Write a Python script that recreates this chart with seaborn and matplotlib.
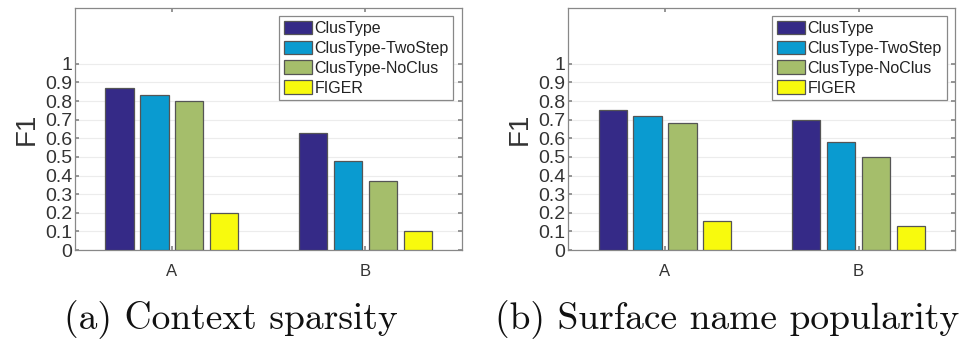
import matplotlib
matplotlib.use("Agg")
import matplotlib.pyplot as plt
import seaborn as sns
import pandas as pd

groups = ["A", "B"]
methods = ["ClusType", "ClusType-TwoStep", "ClusType-NoClus", "FIGER"]
colors = ["#352A87", "#0A9BD0", "#A5BE6B", "#F8FA0D"]

# values per method, for groups A and B
sparsity = {
    "ClusType": [0.87, 0.63],
    "ClusType-TwoStep": [0.835, 0.48],
    "ClusType-NoClus": [0.80, 0.37],
    "FIGER": [0.198, 0.105],
}
popularity = {
    "ClusType": [0.75, 0.70],
    "ClusType-TwoStep": [0.72, 0.58],
    "ClusType-NoClus": [0.68, 0.50],
    "FIGER": [0.155, 0.13],
}
captions = ["(a) Context sparsity", "(b) Surface name popularity"]
yticks = [0, 0.1, 0.2, 0.3, 0.4, 0.5, 0.6, 0.7, 0.8, 0.9, 1]
yticklabels = ["0", "0.1", "0.2", "0.3", "0.4", "0.5", "0.6", "0.7", "0.8", "0.9", "1"]

sns.set_theme(style="white")
plt.rcParams["font.family"] = ["Liberation Sans", "DejaVu Sans"]

fig = plt.figure(figsize=(9.68, 3.44), dpi=100)
ax_pos = [[0.0775, 0.273, 0.400, 0.704], [0.587, 0.273, 0.400, 0.704]]
cap_x = [0.239, 0.7515]

for i, data in enumerate([sparsity, popularity]):
    rows = []
    for m in methods:
        for g, v in zip(groups, data[m]):
            rows.append({"group": g, "method": m, "F1": v})
    df = pd.DataFrame(rows)
    ax = fig.add_axes(ax_pos[i])
    sns.barplot(data=df, x="group", y="F1", hue="method", hue_order=methods,
                palette=colors, saturation=1, width=0.72, gap=0.19,
                edgecolor="#555555", linewidth=0.9, ax=ax, errorbar=None,
                zorder=3)
    ax.set_xlim(-0.5, 1.5)
    ax.set_ylim(0, 1.3)
    ax.set_yticks(yticks)
    ax.set_yticklabels(yticklabels, fontsize=14, color="#333333")
    ax.tick_params(axis="y", length=3, direction="in", right=True, left=True,
                   color="#888888", pad=2)
    ax.tick_params(axis="x", labelsize=12, length=3, direction="in", top=True,
                   bottom=True, color="#888888", labelcolor="#333333", pad=10)
    ax.set_xlabel("")
    ax.set_ylabel("F1", fontsize=20, color="#333333", labelpad=4)
    ax.grid(axis="y", color="#ececec", linewidth=0.8, zorder=0)
    ax.set_axisbelow(True)
    for s in ax.spines.values():
        s.set_color("#888888")
        s.set_linewidth(0.9)
    leg = ax.legend(loc="upper right", bbox_to_anchor=(0.977, 0.967),
                    borderaxespad=0, fontsize=11.5, frameon=True, fancybox=False,
                    framealpha=1, edgecolor="#888888", handlelength=1.75,
                    handleheight=0.95, handletextpad=0.15, labelspacing=0.28,
                    borderpad=0.3)
    leg.get_frame().set_linewidth(0.9)
    for t in leg.get_texts():
        t.set_color("#222222")
    fig.text(cap_x[i], 0.07, captions[i], fontsize=27, family="cmr10",
             ha="center", va="center", color="#111111")

fig.savefig("out.png", dpi=100)
